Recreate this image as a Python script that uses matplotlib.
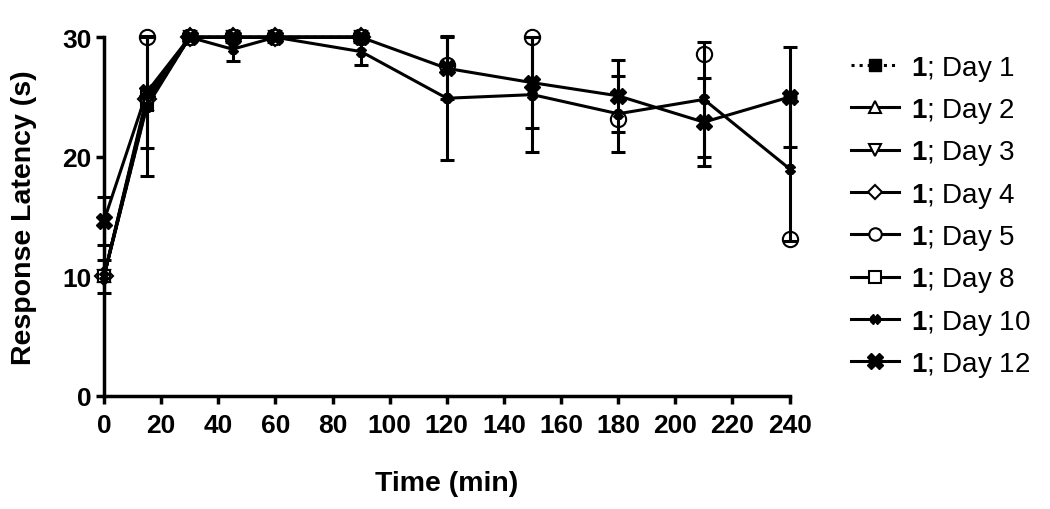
import numpy as np
import matplotlib
matplotlib.use('Agg')
import matplotlib.pyplot as plt
from matplotlib.lines import Line2D

plt.rcParams['font.family'] = ['Liberation Sans', 'DejaVu Sans']
plt.rcParams['mathtext.fontset'] = 'custom'
plt.rcParams['mathtext.rm'] = 'Liberation Sans'
plt.rcParams['mathtext.bf'] = 'Liberation Sans:bold'

nan = np.nan
TIME = [0, 15, 30, 45, 60, 90, 120, 150, 180, 210, 240]

# early days only overlap the later curves (0-90 min)
DAY1 = [10.0, 24.3, 30, 30, 30, 30, nan, nan, nan, nan, nan]
DAY2 = [10.0, 24.4, 30, 30, 30, 30, nan, nan, nan, nan, nan]
DAY3 = [10.0, 24.6, 30, 30, 30, 30, nan, nan, nan, nan, nan]
DAY4 = [10.0, 24.8, 30, 30, 30, 30, nan, nan, nan, nan, nan]
DAY8 = [10.0, 25.0, 30, 30, 30, 30, nan, nan, nan, nan, nan]
DAY5 = [nan, 30, 30, 30, 30, 30, 27.7, 30, 23.2, 28.6, 13.1]

DAY10 = [10.0, 24.2, 30, 29.0, 30, 28.8, 24.9, 25.2, 23.6, 24.8, 19.0]
DAY10_ERR = [1.4, 5.8, 0, 1.0, 0, 1.1, 5.2, 4.8, 3.2, 4.8, 6.0]
DAY12 = [14.65, 25.4, 30, 30, 30, 30, 27.4, 26.2, 25.1, 22.9, 25.0]
DAY12_ERR = [2.0, 4.7, 0, 0, 0, 0, 2.6, 3.8, 3.0, 3.7, 4.2]

LABELS = ['Day 1', 'Day 2', 'Day 3', 'Day 4', 'Day 5', 'Day 8', 'Day 10', 'Day 12']

fig = plt.figure(figsize=(10.5, 5.1), dpi=100)
ax = fig.add_axes([0.099, 0.2216, 0.653, 0.7034])

LW = 2.2
early = [(DAY1, ':', 's', 'k'), (DAY2, '-', '^', 'w'), (DAY3, '-', 'v', 'w'),
         (DAY4, '-', 'D', 'w'), (DAY8, '-', 's', 'w')]
for vals, ls, mk, fc in early:
    ax.plot(TIME, vals, ls=ls, color='k', lw=LW, marker=mk, ms=9,
            mfc=fc, mec='k', mew=1.5, clip_on=False, zorder=2)

ax.plot(TIME, DAY5, ls='none', marker='o', ms=11, mfc='w', mec='k',
        mew=1.5, clip_on=False, zorder=3)

eb_kw = dict(color='k', lw=LW, elinewidth=2.2, capsize=5, capthick=2.2,
             clip_on=False, zorder=4)
e10 = ax.errorbar(TIME, DAY10, yerr=DAY10_ERR, marker='X', ms=7, mfc='k', **eb_kw)
e12 = ax.errorbar(TIME, DAY12, yerr=DAY12_ERR, marker='X', ms=12, mfc='k', **eb_kw)
for e in (e10, e12):
    for art in e.lines[1] + tuple(e.lines[2]):
        art.set_clip_on(False)

ax.set_xlim(0, 240)
ax.set_ylim(0, 30)
ax.set_xticks(np.arange(0, 241, 20))
ax.set_yticks([0, 10, 20, 30])
for s in ('top', 'right'):
    ax.spines[s].set_visible(False)
for s in ('left', 'bottom'):
    ax.spines[s].set_linewidth(2.5)
ax.tick_params(width=2.5, length=6, labelsize=19)
ax.tick_params(axis='x', pad=6)
ax.tick_params(axis='y', pad=3)
for lab in ax.get_xticklabels() + ax.get_yticklabels():
    lab.set_fontweight('bold')

ax.set_xlabel('Time (min)', fontsize=20.5, fontweight='bold', labelpad=24)
ax.set_ylabel('Response Latency (s)', fontsize=20.5, fontweight='bold', labelpad=18)

handles = [
    Line2D([], [], ls=':', color='k', lw=LW, marker='s', ms=9, mfc='k'),
    Line2D([], [], ls='-', color='k', lw=LW, marker='^', ms=9, mfc='w', mew=1.5),
    Line2D([], [], ls='-', color='k', lw=LW, marker='v', ms=9, mfc='w', mew=1.5),
    Line2D([], [], ls='-', color='k', lw=LW, marker='D', ms=7, mfc='w', mew=1.5),
    Line2D([], [], ls='-', color='k', lw=LW, marker='o', ms=9, mfc='w', mew=1.5),
    Line2D([], [], ls='-', color='k', lw=LW, marker='s', ms=9, mfc='w', mew=1.5),
    Line2D([], [], ls='-', color='k', lw=LW, marker='X', ms=7, mfc='k'),
    Line2D([], [], ls='-', color='k', lw=LW, marker='X', ms=11, mfc='k'),
]
fig.legend(handles, [r'$\mathbf{1}$; ' + l for l in LABELS],
           loc='upper left', bbox_to_anchor=(0.787, 0.942), frameon=False,
           fontsize=20, handlelength=1.7, handletextpad=0.45, labelspacing=0.48)

fig.savefig('out.png', dpi=100)
